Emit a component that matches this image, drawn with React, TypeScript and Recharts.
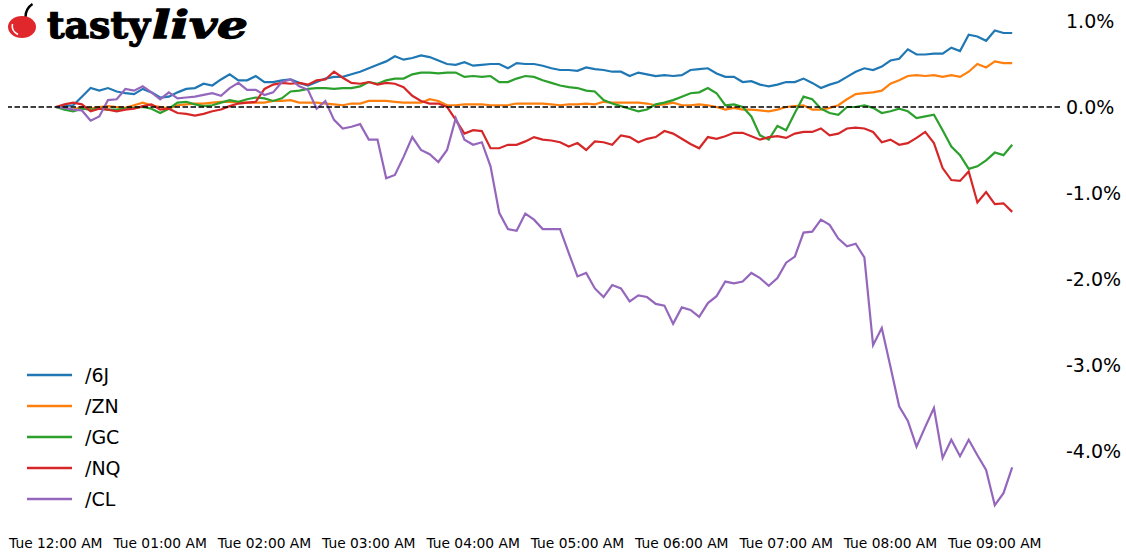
import React from 'react';
import { LineChart, Line, XAxis, YAxis, ReferenceLine, Legend } from 'recharts';

// Time axis: one point every 5 minutes starting Tue 12:00 AM
const TICK_LABELS = [
  'Tue 12:00 AM', 'Tue 01:00 AM', 'Tue 02:00 AM', 'Tue 03:00 AM', 'Tue 04:00 AM',
  'Tue 05:00 AM', 'Tue 06:00 AM', 'Tue 07:00 AM', 'Tue 08:00 AM', 'Tue 09:00 AM',
];
const STEPS_PER_HOUR = 12;
const Y_TICKS = [-4, -3, -2, -1, 0, 1];

const SERIES_NAMES = ['/6J', '/ZN', '/GC', '/NQ', '/CL'];
const SERIES_COLORS = ['#1f77b4', '#ff7f0e', '#2ca02c', '#d62728', '#9467bd'];

const J6 = [
  0.00, 0.01, 0.02, 0.12, 0.22, 0.19, 0.22, 0.18, 0.16, 0.15, 0.21, 0.17, 0.11, 0.12, 0.17, 0.21, 0.22, 0.27, 0.25, 0.32,
  0.38, 0.31, 0.31, 0.36, 0.29, 0.29, 0.31, 0.32, 0.28, 0.25, 0.29, 0.33, 0.35, 0.35, 0.38, 0.41, 0.45, 0.49, 0.53, 0.59,
  0.55, 0.57, 0.60, 0.58, 0.54, 0.50, 0.49, 0.52, 0.48, 0.49, 0.50, 0.50, 0.45, 0.51, 0.50, 0.50, 0.48, 0.45, 0.43, 0.43,
  0.42, 0.46, 0.44, 0.43, 0.41, 0.41, 0.36, 0.40, 0.38, 0.36, 0.37, 0.36, 0.37, 0.43, 0.44, 0.45, 0.39, 0.35, 0.35, 0.29,
  0.30, 0.26, 0.24, 0.26, 0.29, 0.29, 0.33, 0.28, 0.22, 0.26, 0.29, 0.35, 0.41, 0.45, 0.43, 0.47, 0.54, 0.56, 0.67, 0.61,
  0.61, 0.62, 0.62, 0.69, 0.65, 0.84, 0.82, 0.77, 0.89, 0.86, 0.86,
];
const ZN = [
  0.00, -0.01, -0.03, 0.00, -0.02, 0.00, 0.01, 0.00, -0.01, 0.02, 0.05, 0.02, 0.00, -0.02, 0.02, 0.03, 0.04, 0.04, 0.05, 0.06,
  0.06, 0.05, 0.05, 0.05, 0.05, 0.07, 0.07, 0.08, 0.05, 0.05, 0.05, 0.04, 0.03, 0.02, 0.04, 0.04, 0.07, 0.07, 0.07, 0.06,
  0.05, 0.05, 0.05, 0.09, 0.07, 0.02, 0.02, 0.03, 0.03, 0.03, 0.02, 0.02, 0.02, 0.04, 0.04, 0.04, 0.04, 0.03, 0.02, 0.03,
  0.03, 0.04, 0.03, 0.06, 0.05, 0.05, 0.05, 0.05, 0.04, 0.02, 0.03, 0.05, 0.02, 0.02, 0.03, 0.02, 0.00, -0.03, -0.01, -0.03,
  -0.03, -0.04, -0.05, -0.03, 0.00, 0.01, 0.02, -0.03, -0.03, -0.01, 0.02, 0.09, 0.15, 0.16, 0.17, 0.19, 0.27, 0.31, 0.36, 0.37,
  0.36, 0.37, 0.35, 0.37, 0.35, 0.41, 0.50, 0.46, 0.53, 0.51, 0.51,
];
const GC = [
  0.00, -0.03, -0.05, -0.02, -0.03, -0.02, -0.03, -0.03, -0.02, -0.01, 0.00, -0.02, -0.07, -0.02, 0.05, 0.06, 0.03, 0.01, 0.02, 0.05,
  0.08, 0.06, 0.09, 0.11, 0.10, 0.07, 0.10, 0.18, 0.19, 0.21, 0.22, 0.22, 0.21, 0.22, 0.22, 0.24, 0.29, 0.27, 0.31, 0.33,
  0.33, 0.38, 0.40, 0.40, 0.39, 0.40, 0.40, 0.35, 0.36, 0.35, 0.36, 0.29, 0.29, 0.33, 0.36, 0.35, 0.31, 0.28, 0.25, 0.23,
  0.22, 0.19, 0.18, 0.08, 0.04, 0.01, -0.02, -0.05, -0.03, 0.03, 0.05, 0.08, 0.12, 0.16, 0.17, 0.22, 0.16, 0.02, 0.03, 0.00,
  -0.11, -0.33, -0.38, -0.22, -0.27, -0.07, 0.12, 0.09, -0.02, -0.07, -0.09, 0.00, 0.00, 0.02, -0.01, -0.07, -0.05, -0.02, -0.05, -0.13,
  -0.11, -0.09, -0.27, -0.46, -0.56, -0.72, -0.69, -0.62, -0.53, -0.56, -0.44,
];
const NQ = [
  0.00, 0.03, 0.05, 0.03, -0.05, -0.02, -0.03, -0.05, -0.03, -0.02, 0.01, 0.03, -0.03, -0.02, -0.07, -0.08, -0.10, -0.08, -0.05, -0.03,
  0.01, 0.04, 0.05, 0.06, 0.21, 0.26, 0.28, 0.27, 0.28, 0.26, 0.31, 0.32, 0.41, 0.34, 0.28, 0.27, 0.29, 0.26, 0.28, 0.27,
  0.23, 0.13, 0.07, 0.04, 0.04, 0.00, -0.15, -0.31, -0.27, -0.28, -0.48, -0.48, -0.44, -0.44, -0.40, -0.35, -0.38, -0.39, -0.41, -0.46,
  -0.42, -0.50, -0.40, -0.41, -0.44, -0.33, -0.35, -0.41, -0.37, -0.35, -0.28, -0.31, -0.37, -0.43, -0.48, -0.35, -0.37, -0.34, -0.30, -0.30,
  -0.34, -0.38, -0.35, -0.34, -0.36, -0.31, -0.29, -0.29, -0.25, -0.33, -0.31, -0.25, -0.24, -0.25, -0.29, -0.41, -0.38, -0.44, -0.42, -0.36,
  -0.29, -0.42, -0.71, -0.85, -0.86, -0.75, -1.11, -0.99, -1.13, -1.12, -1.22,
];
const CL = [
  0.00, -0.01, -0.03, -0.04, -0.16, -0.11, 0.08, 0.09, 0.21, 0.19, 0.24, 0.17, 0.09, 0.17, 0.10, 0.11, 0.12, 0.14, 0.16, 0.13,
  0.22, 0.28, 0.20, 0.20, 0.14, 0.17, 0.29, 0.32, 0.24, 0.20, -0.02, 0.07, -0.15, -0.25, -0.23, -0.20, -0.38, -0.38, -0.83, -0.79,
  -0.58, -0.35, -0.50, -0.55, -0.64, -0.50, -0.13, -0.38, -0.44, -0.41, -0.69, -1.23, -1.42, -1.44, -1.24, -1.31, -1.42, -1.42, -1.42, -1.70,
  -1.97, -1.93, -2.11, -2.21, -2.07, -2.11, -2.26, -2.19, -2.21, -2.29, -2.31, -2.52, -2.33, -2.36, -2.44, -2.28, -2.20, -2.03, -2.05, -2.03,
  -1.93, -1.99, -2.08, -1.99, -1.81, -1.74, -1.46, -1.45, -1.31, -1.37, -1.53, -1.62, -1.59, -1.75, -2.77, -2.57, -3.02, -3.48, -3.65, -3.95,
  -3.72, -3.50, -4.08, -3.87, -4.06, -3.87, -4.05, -4.22, -4.63, -4.49, -4.19,
];

const SERIES_VALUES = [J6, ZN, GC, NQ, CL];
const KEYS = ['j6', 'zn', 'gc', 'nq', 'cl'];

const data = J6.map((_, i) => {
  const row: Record<string, number> = { t: i };
  KEYS.forEach((k, s) => {
    row[k] = SERIES_VALUES[s][i];
  });
  return row;
});

const X_TICKS = TICK_LABELS.map((_, k) => k * STEPS_PER_HOUR);
const FONT = '"DejaVu Sans", sans-serif';

const renderLegend = () => (
  <svg width={140} height={150} style={{ display: 'block' }}>
    {SERIES_NAMES.map((name, k) => {
      const cy = 15 + k * 31;
      return (
        <g key={name}>
          <line x1={1} x2={46} y1={cy} y2={cy} stroke={SERIES_COLORS[k]} strokeWidth={2.6} />
          <text x={59} y={cy + 7} fontSize={19} fontFamily={FONT} fill="#000">
            {name}
          </text>
        </g>
      );
    })}
  </svg>
);

const Logo = () => (
  <svg
    width={260}
    height={55}
    style={{ position: 'absolute', left: 0, top: 0 }}
  >
    <path d="M25.5 17 C 25.5 11, 28 7, 32.5 4" stroke="#000" strokeWidth={2.4} fill="none" />
    <ellipse cx={22} cy={27} rx={14} ry={11} fill="#e0272b" />
    <path d="M12.5 24 C 11.5 28, 13.5 32, 18 34.5" stroke="#fff" strokeWidth={1.6} fill="none" />
    <text
      x={47}
      y={38}
      fontFamily='"DejaVu Serif", serif'
      fontWeight="bold"
      fontSize={38}
      textLength={103}
      lengthAdjust="spacingAndGlyphs"
      fill="#000"
      stroke="#000"
      strokeWidth={1.3}
    >
      tasty
    </text>
    <text
      x={152}
      y={38}
      fontFamily='"DejaVu Serif", serif'
      fontWeight="bold"
      fontStyle="italic"
      fontSize={38}
      textLength={96}
      lengthAdjust="spacingAndGlyphs"
      fill="#000"
      stroke="#000"
      strokeWidth={1.3}
    >
      live
    </text>
  </svg>
);

export default function App() {
  return (
    <div
      style={{
        position: 'absolute',
        left: 0,
        top: 0,
        width: 1126,
        height: 555,
        background: '#fff',
        fontFamily: FONT,
      }}
    >
      <LineChart
        width={1126}
        height={555}
        data={data}
        margin={{ top: 6.7, right: 6, left: 8, bottom: 6.1 }}
      >
        <XAxis
          dataKey="t"
          type="number"
          domain={[-5.5, 115.5]}
          ticks={X_TICKS}
          interval={0}
          tickFormatter={(v: number) => TICK_LABELS[Math.round(v / STEPS_PER_HOUR)]}
          axisLine={false}
          tickLine={false}
          tickSize={0}
          tickMargin={9.2}
          height={20}
          tick={{ fill: '#000', fontSize: 13.8, fontFamily: FONT }}
          allowDataOverflow
        />
        <YAxis
          orientation="right"
          type="number"
          domain={[-4.906, 1.166]}
          ticks={Y_TICKS}
          interval={0}
          tickFormatter={(v: number) => `${v.toFixed(1)}%`}
          axisLine={false}
          tickLine={false}
          tickSize={0}
          tickMargin={6}
          width={60}
          tick={{ fill: '#000', fontSize: 19, fontFamily: FONT }}
          allowDataOverflow
        />
        {KEYS.map((k, s) => (
          <Line
            key={k}
            dataKey={k}
            name={SERIES_NAMES[s]}
            type="linear"
            stroke={SERIES_COLORS[s]}
            strokeWidth={2.2}
            dot={false}
            activeDot={false}
            isAnimationActive={false}
          />
        ))}
        <ReferenceLine y={0} stroke="#000" strokeWidth={1.5} strokeDasharray="5.5 2.5" />
        <Legend
          layout="vertical"
          align="center"
          verticalAlign="middle"
          content={renderLegend}
          wrapperStyle={{ left: 26, top: 360, width: 140, height: 150 }}
        />
      </LineChart>
      <Logo />
    </div>
  );
}
